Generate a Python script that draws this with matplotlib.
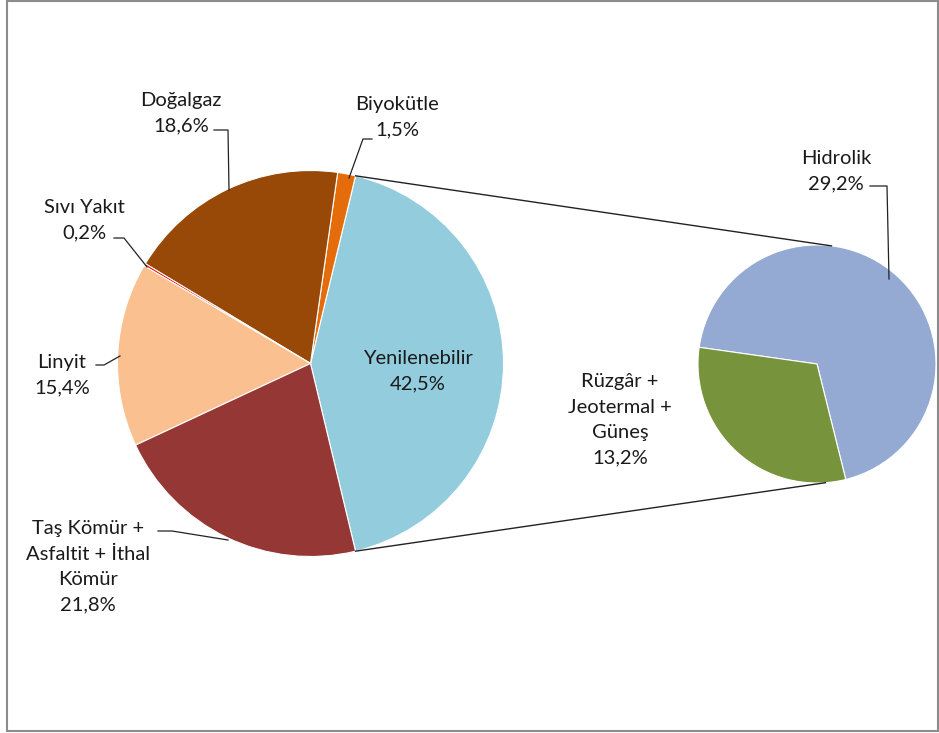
import matplotlib.pyplot as plt
import numpy as np

# main pie, counterclockwise starting with the "other" slice
main_labels = ['Yenilenebilir', 'Biyokütle', 'Doğalgaz', 'Sıvı Yakıt', 'Linyit',
               'Taş Kömür +\nAsfaltit + İthal\nKömür']
main_values = [42.5, 1.5, 18.6, 0.2, 15.4, 21.8]
main_colors = ['#93CDDD', '#E46C0A', '#984807', '#FF0000', '#FAC090', '#953735']

# secondary pie (breakdown of Yenilenebilir)
sub_labels = ['Hidrolik', 'Rüzgâr +\nJeotermal +\nGüneş']
sub_values = [29.2, 13.2]
sub_colors = ['#95AAD2', '#77933C']

plt.rcParams['font.family'] = ['Lato', 'DejaVu Sans']
W, H = 939, 733


def P(x, y):
    # pixel coords (origin top-left) -> axes coords (y up)
    return x, H - y


fig = plt.figure(figsize=(W / 100, H / 100), dpi=100)
ax = fig.add_axes([0, 0, 1, 1])

c1, r1 = P(310.5, 363.5), 193
c2, r2 = P(817, 364), 119

start1 = -main_values[0] / 100 * 360 / 2
ax.pie(main_values, colors=main_colors, startangle=start1, counterclock=True,
       center=c1, radius=r1, frame=True,
       wedgeprops=dict(edgecolor='white', linewidth=0.8))
start2 = -76
ax.pie(sub_values, colors=sub_colors, startangle=start2, counterclock=True,
       center=c2, radius=r2, frame=True,
       wedgeprops=dict(edgecolor='white', linewidth=0.8))
ax.set_xlim(0, W)
ax.set_ylim(0, H)
ax.set_aspect('equal')
ax.axis('off')

# connector lines
for a1, a2 in [(-start1, 83), (start1, -86)]:
    p1 = (c1[0] + r1 * np.cos(np.radians(a1)), c1[1] + r1 * np.sin(np.radians(a1)))
    p2 = (c2[0] + r2 * np.cos(np.radians(a2)), c2[1] + r2 * np.sin(np.radians(a2)))
    ax.plot([p1[0], p2[0]], [p1[1], p2[1]], color='#222222', lw=1)

fs = 14.5
tc = '#1a1a1a'


def label(x, y, txt):
    ax.text(*P(x, y), txt, ha='center', va='center', fontsize=fs, color=tc,
            linespacing=1.6)


def leader(pts):
    xs, ys = zip(*[P(x, y) for x, y in pts])
    ax.plot(xs, ys, color='#222222', lw=0.9)


label(181, 113, 'Doğalgaz\n18,6%')
leader([(214, 130), (228, 130), (229, 190)])

label(397, 117, 'Biyokütle\n1,5%')
leader([(372, 139), (363, 139), (349, 178)])

label(84, 220, 'Sıvı Yakıt\n0,2%')
leader([(114, 238), (124, 238), (147, 267)])

label(62, 375, 'Linyit\n15,4%')
leader([(96, 365), (104, 365), (120, 356)])

label(88, 567, 'Taş Kömür +\nAsfaltit + İthal\nKömür\n21,8%')
leader([(158, 531), (172, 531), (228, 540)])

label(418, 371, 'Yenilenebilir\n42,5%')

label(836, 171, 'Hidrolik\n29,2%')
leader([(870, 186), (887, 186), (889, 279)])

label(620, 420, 'Rüzgâr +\nJeotermal +\nGüneş\n13,2%')

# outer frame
ax.add_patch(plt.Rectangle(P(6.5, 731), 931, 730, fill=False,
                           edgecolor='#8c8c8c', lw=1.5))

fig.savefig('out.png', dpi=100)
